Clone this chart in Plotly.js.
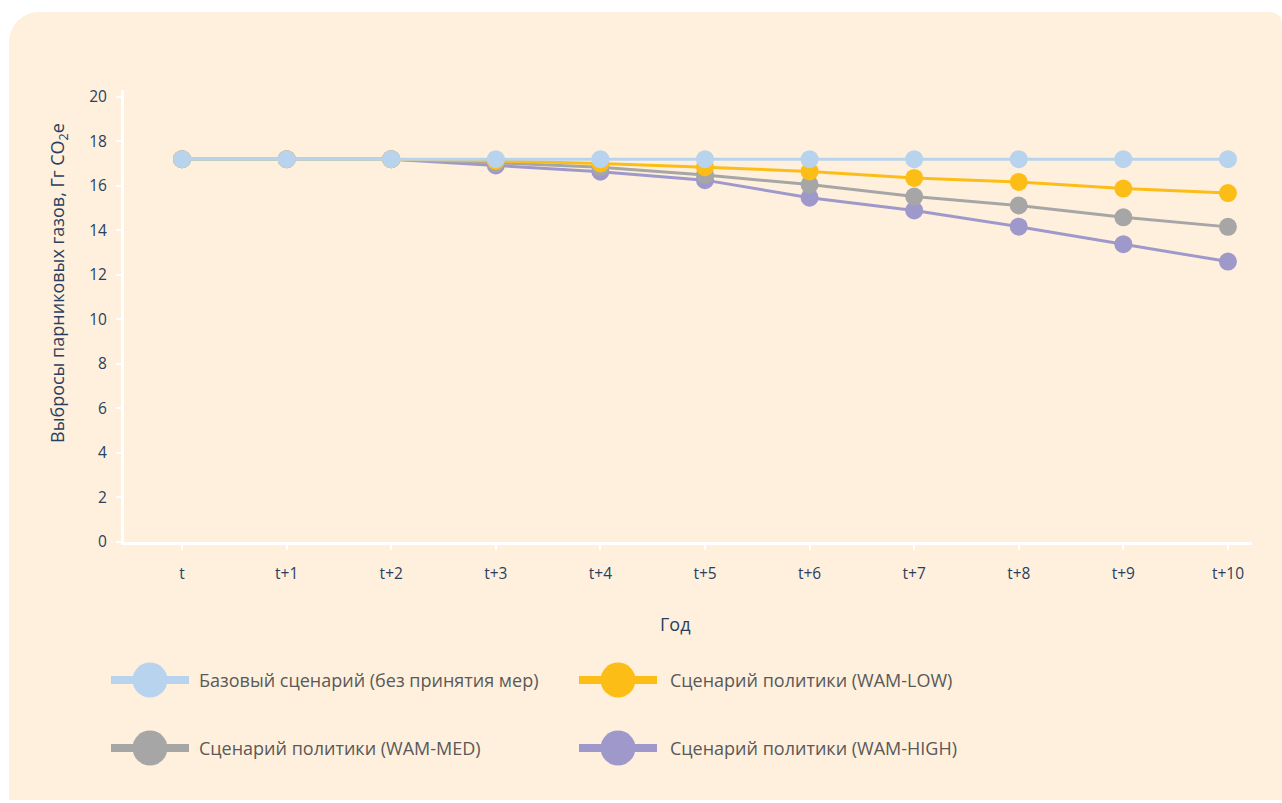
<!DOCTYPE html>
<html>
<head>
<meta charset="utf-8">
<script src="https://cdn.plot.ly/plotly-3.0.1.min.js"></script>
<style>
  html, body { margin: 0; padding: 0; background: #ffffff; width: 1282px; height: 803px; overflow: hidden; }
  #panel {
    position: absolute; left: 9px; top: 12px; width: 1273px; height: 788px;
    background: #FEF0DC; border-radius: 30px 12px 0 0;
  }
  #chart { position: absolute; left: 0; top: 0; width: 1282px; height: 803px; }
</style>
</head>
<body>
<div id="panel"></div>
<div id="chart"></div>
<script>
// Years on the horizontal axis
const years = ['t', 't+1', 't+2', 't+3', 't+4', 't+5', 't+6', 't+7', 't+8', 't+9', 't+10'];

// Emissions per scenario, Gg CO2e
const baseline = [17.2, 17.2, 17.2, 17.2, 17.2, 17.2, 17.2, 17.2, 17.2, 17.2, 17.2];
const wamLow   = [17.2, 17.2, 17.2, 17.12, 17.01, 16.84, 16.65, 16.36, 16.18, 15.88, 15.68];
const wamMed   = [17.2, 17.2, 17.2, 17.04, 16.84, 16.49, 16.06, 15.52, 15.12, 14.59, 14.16];
const wamHigh  = [17.2, 17.2, 17.2, 16.92, 16.64, 16.26, 15.47, 14.90, 14.17, 13.38, 12.60];

const names = [
  'Базовый сценарий (без принятия мер)',
  'Сценарий политики (WAM-LOW)',
  'Сценарий политики (WAM-MED)',
  'Сценарий политики (WAM-HIGH)'
];
const colors = ['#B7D3EE', '#FDBD17', '#A6A6A6', '#9F99CB'];
const series = [baseline, wamLow, wamMed, wamHigh];

// Draw the most reduced scenario first so the baseline sits on top
const order = [3, 2, 1, 0];
const traces = order.map(i => ({
  type: 'scatter',
  mode: 'lines+markers',
  name: names[i],
  x: years,
  y: series[i],
  line: { color: colors[i], width: 3 },
  marker: { color: colors[i], size: 18 },
  showlegend: false,
  hoverinfo: 'x+y+name'
}));

// Plot area geometry (pixels) used to place the hand-built legend
const W = 1282, H = 803;
const mL = 124, mR = 30, mT = 90, mB = 261;
const pw = W - mL - mR, ph = H - mT - mB;
const px = x => (x - mL) / pw;
const py = y => (H - mB - y) / ph;

// Legend: thick line with a big disc, then the label
const legendSlots = [
  { x0: 111, x1: 189, y: 680, tx: 197 },
  { x0: 579, x1: 657, y: 680, tx: 668 },
  { x0: 111, x1: 189, y: 748, tx: 197 },
  { x0: 579, x1: 657, y: 748, tx: 668 }
];
const shapes = [];
const annotations = [];
legendSlots.forEach((s, i) => {
  shapes.push({
    type: 'line', xref: 'paper', yref: 'paper',
    x0: px(s.x0), x1: px(s.x1), y0: py(s.y), y1: py(s.y),
    line: { color: colors[i], width: 8 }
  });
  const cx = (s.x0 + s.x1) / 2;
  shapes.push({
    type: 'circle', xref: 'paper', yref: 'paper',
    xsizemode: 'pixel', ysizemode: 'pixel',
    xanchor: px(cx), yanchor: py(s.y),
    x0: -17.5, x1: 17.5, y0: -17.5, y1: 17.5,
    fillcolor: colors[i], line: { width: 0 }
  });
  annotations.push({
    xref: 'paper', yref: 'paper', x: px(s.tx), y: py(s.y),
    xanchor: 'left', yanchor: 'middle', showarrow: false,
    text: names[i],
    font: { family: 'Open Sans, sans-serif', size: 18, color: '#595959' }
  });
});

// Axis titles
annotations.push({
  xref: 'paper', yref: 'paper', x: px(58), y: py(283),
  xanchor: 'center', yanchor: 'middle', showarrow: false, textangle: -90,
  text: 'Выбросы парниковых газов, Гг CO<sub>2</sub>e',
  font: { family: 'Open Sans, sans-serif', size: 18, color: '#2a3f5f' }
});
annotations.push({
  xref: 'paper', yref: 'paper', x: px(675), y: py(624),
  xanchor: 'center', yanchor: 'middle', showarrow: false,
  text: 'Год',
  font: { family: 'Open Sans, sans-serif', size: 18, color: '#2a3f5f' }
});

const layout = {
  width: W, height: H,
  margin: { l: mL, r: mR, t: mT, b: mB, pad: 0 },
  paper_bgcolor: 'rgba(0,0,0,0)',
  plot_bgcolor: 'rgba(0,0,0,0)',
  font: { family: 'Open Sans, sans-serif', size: 15, color: '#2a3f5f' },
  showlegend: false,
  xaxis: {
    type: 'category',
    range: [-0.555, 10.23],
    showgrid: false, zeroline: false,
    showline: true, linecolor: '#ffffff', linewidth: 3,
    ticks: 'outside', tickcolor: '#ffffff', ticklen: 5, tickwidth: 2,
    ticklabelstandoff: 10,
    tickfont: { size: 15.5, color: '#2a3f5f' }
  },
  yaxis: {
    range: [0, 20.31],
    tickvals: [0, 2, 4, 6, 8, 10, 12, 14, 16, 18, 20],
    showgrid: false, zeroline: false,
    showline: true, linecolor: '#ffffff', linewidth: 3,
    ticks: 'outside', tickcolor: '#ffffff', ticklen: 5, tickwidth: 2,
    ticklabelstandoff: 6,
    tickfont: { size: 15.5, color: '#2a3f5f' }
  },
  shapes: shapes,
  annotations: annotations
};

Plotly.newPlot('chart', traces, layout, { displayModeBar: false });
</script>
</body>
</html>
